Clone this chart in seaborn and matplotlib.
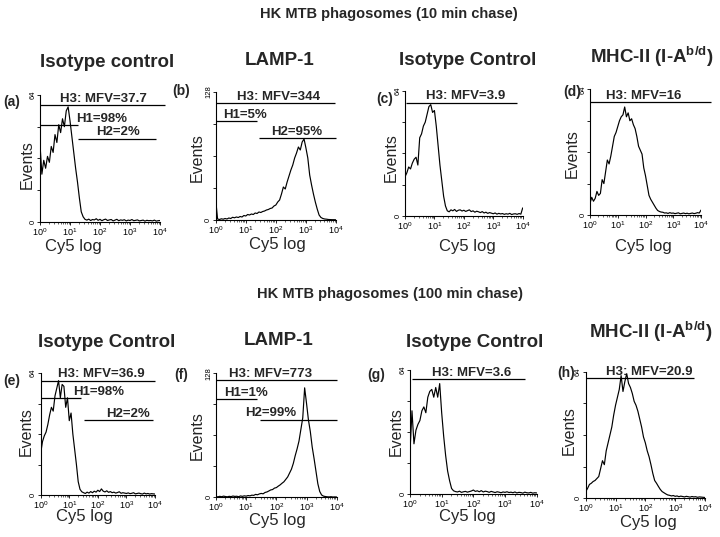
import numpy as np
import pandas as pd
import matplotlib
matplotlib.use("Agg")
import matplotlib.pyplot as plt
import seaborn as sns
from matplotlib.ticker import LogLocator, NullFormatter, FixedLocator, FixedFormatter

sns.set_style("ticks")
plt.rcParams["font.family"] = ["Liberation Sans", "DejaVu Sans"]
plt.rcParams["mathtext.fontset"] = "custom"
plt.rcParams["mathtext.rm"] = "Liberation Sans"
plt.rcParams["mathtext.bf"] = "Liberation Sans:bold"
plt.rcParams["mathtext.it"] = "Liberation Sans:italic"

# ---------------- data ----------------
# Cy5 fluorescence channels (log scale, 16 channels per decade, 10^0 .. 10^4)
CHANNELS = np.logspace(0, 4, 65)

SECTION_TITLES = ["HK MTB phagosomes (10 min chase)", "HK MTB phagosomes (100 min chase)"]
PANEL_IDS = ["(a)", "(b)", "(c)", "(d)", "(e)", "(f)", "(g)", "(h)"]
PANEL_TITLES = ["Isotype control", "LAMP-1", "Isotype Control", r"MHC-II (I-A$^{\mathbf{b/d}}$)",
                "Isotype Control", "LAMP-1", "Isotype Control", r"MHC-II (I-A$^{\mathbf{b/d}}$)"]
Y_MAX = [64, 128, 64, 64, 64, 128, 64, 64]
X_TICK_LABELS = [r"$\mathregular{10^{0}}$", r"$\mathregular{10^{1}}$", r"$\mathregular{10^{2}}$",
                 r"$\mathregular{10^{3}}$", r"$\mathregular{10^{4}}$"]

HIST_A = [39, 24, 31, 27, 33, 30, 38, 35, 44, 40, 49, 45, 52, 48, 56, 58,
          51, 43, 35, 27, 20, 12, 5, 2.5, 1.2, 0.8, 1.3, 0.6, 1.1, 0.9, 1.5, 0.7,
          1.2, 0.5, 1.0, 1.3, 0.6, 0.9, 1.1, 0.4, 0.8, 1.2, 0.5, 0.9, 0.7, 1.0, 0.4, 0.8,
          0.6, 1.1, 0.5, 0.7, 0.9, 0.4, 0.6, 0.8, 0.3, 0.7, 0.5, 0.6, 0.4, 0.8, 0.3, 0.5,
          0.6]
HIST_B = [20, 1.0, 0.5, 1.2, 0.8, 1.5, 1.0, 2.0, 1.5, 2.7, 2.2, 3.0, 2.5, 3.5, 3.0, 4.5,
          4.0, 5.5, 5.0, 6.0, 5.5, 7.0, 6.5, 8.0, 7.5, 8.5, 9.0, 10, 10.5, 11.5, 12, 14,
          15, 18, 20, 26, 33, 31, 38, 44, 50, 55, 62, 67, 73, 70, 78, 81,
          72, 62, 45, 35, 26, 18, 11, 5, 2.5, 1.5, 1.0, 0.8, 0.5, 0.4, 0.3, 0.3,
          0.2]
HIST_C = [20, 22, 25, 24, 27, 29, 30, 26, 40, 42, 46, 48, 52, 56, 57, 53,
          54, 46, 36, 26, 18, 10, 5, 2.5, 2, 3, 2.5, 3.2, 2.2, 2.8, 3, 2.4,
          2.8, 2.2, 2.6, 3, 2.1, 2.5, 1.8, 2.3, 2, 1.6, 2.1, 1.4, 1.8, 1.2, 1.6, 1.3,
          1.0, 1.4, 0.8, 1.2, 0.9, 1.1, 0.7, 1.0, 0.8, 1.2, 0.6, 0.9, 1.0, 0.7, 1.1, 0.8,
          4]
HIST_D = [6, 9, 7, 8.5, 12, 10, 11, 18, 16, 22, 28, 26, 30, 35, 40, 42,
          45, 48, 50, 51, 55, 50, 52, 48, 49, 46, 44, 40, 35, 33, 31, 24,
          20, 15, 10, 8, 6.5, 5, 3.5, 2.3, 1.8, 1.5, 1.4, 1.0, 1.1, 0.8, 1.2, 0.9,
          1.0, 0.7, 0.9, 1.1, 0.6, 0.8, 1.0, 0.7, 0.9, 0.6, 0.8, 1.0, 0.7, 0.9, 1.2, 1.0,
          2.5]
HIST_E = [22, 28, 31, 33, 37, 42, 46, 44, 52, 56, 60, 51, 58, 57, 46, 51,
          39, 43, 32, 24, 16, 7, 3, 1.7, 1.2, 0.8, 1.5, 1.0, 1.8, 1.2, 2.0, 1.5,
          2.5, 1.8, 3.2, 2.0, 1.6, 2.2, 1.4, 1.8, 1.2, 1.5, 1.0, 1.3, 1.7, 0.9, 1.2, 1.0,
          0.8, 1.1, 0.7, 0.9, 1.2, 0.6, 0.8, 1.0, 0.7, 0.5, 1.0, 0.6, 0.8, 0.5, 0.7, 0.6,
          0.5]
HIST_F = [0.7, 0.5, 1.0, 0.6, 1.2, 0.8, 0.5, 1.0, 0.7, 1.3, 0.9, 1.1, 0.6, 1.4, 1.0, 1.5,
          1.2, 1.8, 1.5, 2.2, 2.0, 3.0, 2.6, 3.5, 4.0, 3.6, 5.0, 5.5, 6.5, 7.6, 8.0, 9.5,
          10, 11.5, 12.8, 14.5, 16, 18.5, 21, 25, 29, 35, 43, 50, 58, 70, 82, 113,
          97, 80, 68, 52, 40, 27, 14, 6, 2.4, 1.2, 0.8, 0.5, 0.4, 0.6, 0.3, 0.4,
          0.3]
HIST_G = [22, 43, 26, 33, 36, 38, 43, 45, 42, 50, 53, 54, 50, 55, 50, 57,
          42, 30, 20, 12, 7, 3, 1.8, 1.4, 1.2, 1.6, 1.0, 1.3, 1.5, 1.1, 1.4, 1.7,
          2.2, 1.5, 1.8, 1.3, 1.9, 1.2, 1.6, 1.4, 1.0, 1.5, 1.2, 0.9, 1.3, 1.1, 0.8, 1.2,
          1.0, 1.3, 0.9, 1.1, 0.8, 1.2, 0.7, 1.0, 0.9, 0.6, 1.1, 0.8, 0.7, 1.0, 0.6, 0.8,
          0.7]
HIST_H = [3.4, 5, 7, 7.6, 8.5, 9, 10, 11, 15, 19, 17, 24, 28, 32, 36, 42,
          47, 51, 55, 62, 54, 59, 63, 58, 56, 53, 49, 47, 44, 40, 36, 31,
          28, 24, 21, 17, 12.6, 9, 7.6, 6, 4.5, 3.4, 2.8, 2.2, 1.7, 1.5, 1.2, 1.4,
          1.0, 1.2, 0.8, 1.1, 0.9, 0.7, 1.0, 0.8, 0.6, 0.9, 0.7, 0.8, 0.5, 0.7, 0.6, 0.5,
          0.4]
HISTS = [HIST_A, HIST_B, HIST_C, HIST_D, HIST_E, HIST_F, HIST_G, HIST_H]

# gates: (label, level in events, from Cy5, to Cy5)
GATES_A = [("H3: MFV=37.7", 59.0, 1.0, 14800), ("H1=98%", 48.8, 1.0, 19.0), ("H2=2%", 42.0, 19.0, 7400)]
GATES_B = [("H3: MFV=344", 116.7, 1.0, 9330), ("H1=5%", 99.0, 1.0, 24.5), ("H2=95%", 82.0, 26.9, 10000)]
GATES_C = [("H3: MFV=3.9", 58.0, 1.07, 6310)]
GATES_D = [("H3: MFV=16", 57.6, 1.0, 22900)]
GATES_E = [("H3: MFV=36.9", 60.0, 1.0, 10000), ("H1=98%", 50.7, 1.0, 25.7), ("H2=2%", 39.3, 31.6, 8710)]
GATES_F = [("H3: MFV=773", 121.0, 1.0, 10000), ("H1=1%", 101.0, 1.0, 23.4), ("H2=99%", 80.0, 28.8, 10000)]
GATES_G = [("H3: MFV=3.6", 59.2, 1.12, 4270)]
GATES_H = [("H3: MFV=20.9", 60.6, 1.0, 4270)]
GATES = [GATES_A, GATES_B, GATES_C, GATES_D, GATES_E, GATES_F, GATES_G, GATES_H]

# ---------------- layout (pixels) ----------------
W, H = 720, 537
AX_BOX = [(40, 160, 95, 221.7), (215.7, 336, 92, 220), (405, 522.7, 91, 215.7), (590, 701, 89.3, 215),
          (40.7, 155, 373, 495), (216, 336.7, 373.3, 497.3), (410, 536.7, 370, 494.3), (585.7, 705, 371.7, 498.3)]
# label x-centres (log10 Cy5) for each gate label
LABEL_X = [[2.11, 2.07, 2.61], [2.08, 0.99, 2.69], [2.06], [1.95],
           [2.12, 2.04, 3.05], [1.81, 0.99, 1.82], [1.95], [2.13]]
TITLE_POS = [(107, 66.7), (280, 65), (468, 65), (652, 63), (107, 346.7), (279, 345), (475, 346.7), (651, 338.3)]
ID_POS = [(12, 102), (181, 91), (385, 99), (572, 92), (12, 381), (181, 375), (376, 375), (566, 373)]
EVENTS_POS = [(27.5, 165), (197.5, 158), (391.7, 158), (572.5, 154),
              (26, 432), (197.5, 436), (396.5, 432), (569, 431)]
CY5_POS = [(73, 246), (277, 244), (467, 247), (643, 246), (84, 517), (277, 520), (467, 517), (648, 522)]
SECTION_POS = [(389, 18), (390, 298)]

fig = plt.figure(figsize=(W / 100, H / 100), dpi=100)
fig.patch.set_facecolor("white")

def fx(x):
    return x / W

def fy(y):
    return 1 - y / H

for (t, (x, y)) in zip(SECTION_TITLES, SECTION_POS):
    fig.text(fx(x), fy(y), t, ha="center", va="baseline", fontsize=10.5, fontweight="bold")

for i in range(8):
    l, r, t, b = AX_BOX[i]
    ax = fig.add_axes([fx(l), fy(b), (r - l) / W, (b - t) / H])
    ax.set_facecolor("white")
    df = pd.DataFrame({"Cy5": CHANNELS, "Events": HISTS[i]})
    sns.lineplot(data=df, x="Cy5", y="Events", ax=ax, color="black", linewidth=0.85,
                 estimator=None, sort=False, legend=False)
    ax.set_xscale("log")
    ax.set_xlim(1, 10000)
    ax.set_ylim(0, Y_MAX[i])
    ax.set_xlabel("")
    ax.set_ylabel("")
    for s in ["top", "right"]:
        ax.spines[s].set_visible(False)
    for s in ["left", "bottom"]:
        ax.spines[s].set_linewidth(0.8)
        ax.spines[s].set_color("black")
    ax.xaxis.set_major_locator(FixedLocator([1, 10, 100, 1000, 10000]))
    ax.xaxis.set_major_formatter(FixedFormatter(X_TICK_LABELS))
    ax.xaxis.set_minor_locator(LogLocator(base=10, subs=np.arange(2, 10), numticks=20))
    ax.xaxis.set_minor_formatter(NullFormatter())
    ym = Y_MAX[i]
    ax.set_yticks([0, ym / 4, ym / 2, 3 * ym / 4, ym])
    ax.set_yticklabels(["0", "", "", "", str(ym)], rotation=90, va="center")
    ax.tick_params(axis="both", which="major", direction="out", length=2.0, width=0.6,
                   colors="black", pad=1.0)
    ax.tick_params(axis="x", which="major", labelsize=6.5)
    ax.tick_params(axis="y", which="major", labelsize=5.5, pad=0.6)
    ax.tick_params(axis="x", which="minor", direction="out", length=1.2, width=0.5)
    for (lab, lev, x0, x1), lx in zip(GATES[i], LABEL_X[i]):
        ax.hlines(lev, x0, x1, color="black", linewidth=0.9, clip_on=False)
        ax.annotate(lab, xy=(10 ** lx, lev), xytext=(0, 2.4), textcoords="offset points",
                    ha="center", va="baseline", fontsize=9.5, fontweight="bold", annotation_clip=False)

    tx, ty = TITLE_POS[i]
    fig.text(fx(tx), fy(ty), PANEL_TITLES[i], ha="center", va="baseline", fontsize=13.5, fontweight="bold")
    px, py = ID_POS[i]
    fig.text(fx(px), fy(py), PANEL_IDS[i], ha="center", va="center", fontsize=10, fontweight="bold")
    ex, ey = EVENTS_POS[i]
    fig.text(fx(ex), fy(ey), "Events", ha="center", va="center", rotation=90, fontsize=11.5)
    cx, cy = CY5_POS[i]
    fig.text(fx(cx), fy(cy), "Cy5 log", ha="center", va="center", fontsize=12)

fig.savefig("out.png", dpi=100, facecolor="white")
